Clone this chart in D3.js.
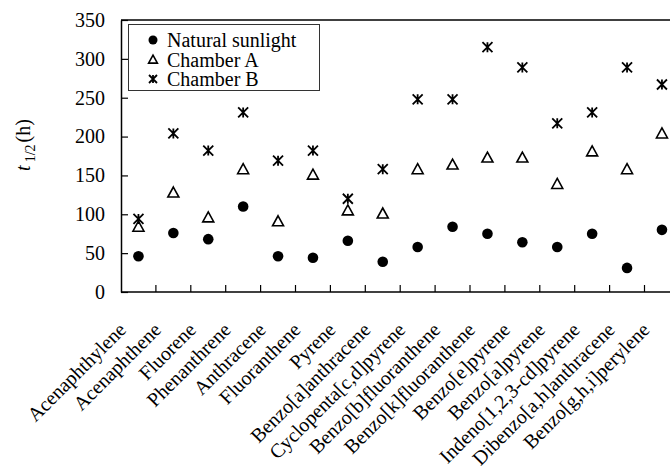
<!DOCTYPE html>
<html>
<head>
<meta charset="utf-8">
<script src="https://cdn.jsdelivr.net/npm/d3@7"></script>
<style>
  body { margin: 0; background: #fff; }
  svg { display: block; font-family: "Liberation Serif", "Times New Roman", serif; }
</style>
</head>
<body>
<svg id="chart" width="670" height="468"></svg>
<script>
const compounds = [
    "Acenaphthylene", "Acenaphthene", "Fluorene", "Phenanthrene", "Anthracene",
    "Fluoranthene", "Pyrene", "Benzo[a]anthracene", "Cyclopenta[c,d]pyrene",
    "Benzo[b]fluoranthene", "Benzo[k]fluoranthene", "Benzo[e]pyrene",
    "Benzo[a]pyrene", "Indeno[1,2,3-cd]pyrene", "Dibenzo[a,h]anthracene",
    "Benzo[g,h,i]perylene"
];
const sunlight = [46, 76, 68, 110, 46, 44, 66, 39, 58, 84, 75, 64, 58, 75, 31, 80];
const chamberA = [84, 128, 96, 158, 91, 151, 105, 101, 158, 164, 173, 173, 139, 181, 158, 204];
const chamberB = [94, 204, 182, 231, 169, 182, 120, 158, 248, 248, 315, 289, 217, 231, 289, 267];
const yTicks = [0, 50, 100, 150, 200, 250, 300, 350];

const svg = d3.select("#chart");
const margin = { left: 121, top: 20, bottom: 292 };
const band = 34.9;

const x = d3.scaleBand()
    .domain(compounds)
    .range([margin.left, margin.left + band * compounds.length]);
const y = d3.scaleLinear().domain([0, 350]).range([margin.bottom, margin.top]);

// frame: top line and axes
svg.append("line")
    .attr("x1", margin.left).attr("x2", 670)
    .attr("y1", margin.top).attr("y2", margin.top)
    .attr("stroke", "#000").attr("stroke-width", 1.5);

const yAxis = svg.append("g")
    .attr("transform", `translate(${margin.left},0)`)
    .call(d3.axisLeft(y).tickValues(yTicks).tickSize(-7).tickPadding(16).tickSizeOuter(0))
    .attr("font-family", null)
    .attr("font-size", null);
yAxis.select(".domain").attr("stroke-width", 1.5);
yAxis.selectAll(".tick line").attr("stroke-width", 1.2);
yAxis.selectAll("text").style("font-size", "20px").attr("fill", "#000");

svg.append("line")
    .attr("x1", margin.left).attr("x2", 670)
    .attr("y1", margin.bottom).attr("y2", margin.bottom)
    .attr("stroke", "#000").attr("stroke-width", 1.5);

// category boundary ticks, pointing inward
svg.selectAll(".xtick")
    .data(compounds.slice(1))
    .enter().append("line")
    .attr("class", "xtick")
    .attr("x1", d => x(d)).attr("x2", d => x(d))
    .attr("y1", margin.bottom).attr("y2", margin.bottom - 7)
    .attr("stroke", "#000").attr("stroke-width", 1.2);

// rotated category labels
svg.selectAll(".xlabel")
    .data(compounds)
    .enter().append("text")
    .attr("class", "xlabel")
    .attr("text-anchor", "end")
    .attr("transform", d => `translate(${x(d) + x.bandwidth() / 2 - 16},${margin.bottom + 34}) rotate(-45)`)
    .attr("dy", "0.35em")
    .style("font-size", "20px")
    .text(d => d);

// y-axis title
const yTitle = svg.append("text")
    .attr("transform", "translate(30,145) rotate(-90)")
    .attr("text-anchor", "middle")
    .style("font-size", "20px");
yTitle.append("tspan").style("font-style", "italic").text("t");
yTitle.append("tspan").attr("dy", 5).attr("dx", 3).style("font-size", "14px").text("1/2");
yTitle.append("tspan").attr("dy", -5).attr("dx", 2).text("(h)");

// marker helpers
const cx = i => x(compounds[i]) + x.bandwidth() / 2;
function triangle(g, s) {
    g.append("path")
        .attr("d", `M0,${-s * 0.55}L${s * 0.55},${s * 0.45}L${-s * 0.55},${s * 0.45}Z`)
        .attr("fill", "#fff").attr("stroke", "#000").attr("stroke-width", 1.6);
}
function star(g, s) {
    const h = s / 2;
    g.append("path")
        .attr("d", `M${-h},${-h}L${h},${h}M${h},${-h}L${-h},${h}M0,${-h}L0,${h}`)
        .attr("stroke", "#000").attr("stroke-width", 1.8).attr("fill", "none");
}

const marks = svg.append("g");
marks.selectAll(".sun")
    .data(sunlight)
    .enter().append("circle")
    .attr("class", "sun")
    .attr("cx", (d, i) => cx(i))
    .attr("cy", d => y(d))
    .attr("r", 5.3)
    .attr("fill", "#000");

marks.selectAll(".chA")
    .data(chamberA)
    .enter().append("g")
    .attr("class", "chA")
    .attr("transform", (d, i) => `translate(${cx(i)},${y(d)})`)
    .each(function () { triangle(d3.select(this), 10); });

marks.selectAll(".chB")
    .data(chamberB)
    .enter().append("g")
    .attr("class", "chB")
    .attr("transform", (d, i) => `translate(${cx(i)},${y(d)})`)
    .each(function () { star(d3.select(this), 10); });

// legend
const legend = svg.append("g");
legend.append("rect")
    .attr("x", 128.5).attr("y", 24.5).attr("width", 191).attr("height", 66)
    .attr("fill", "#fff").attr("stroke", "#333").attr("stroke-width", 1);
const series = ["Natural sunlight", "Chamber A", "Chamber B"];
series.forEach((name, i) => {
    const ly = 40 + i * 19.5;
    const g = legend.append("g").attr("transform", `translate(153,${ly})`);
    if (i === 0) g.append("circle").attr("r", 4.5).attr("fill", "#000");
    if (i === 1) triangle(g, 8);
    if (i === 2) star(g, 8);
    legend.append("text")
        .attr("x", 167).attr("y", ly)
        .attr("dy", "0.35em")
        .style("font-size", "20px")
        .text(name);
});
</script>
</body>
</html>
